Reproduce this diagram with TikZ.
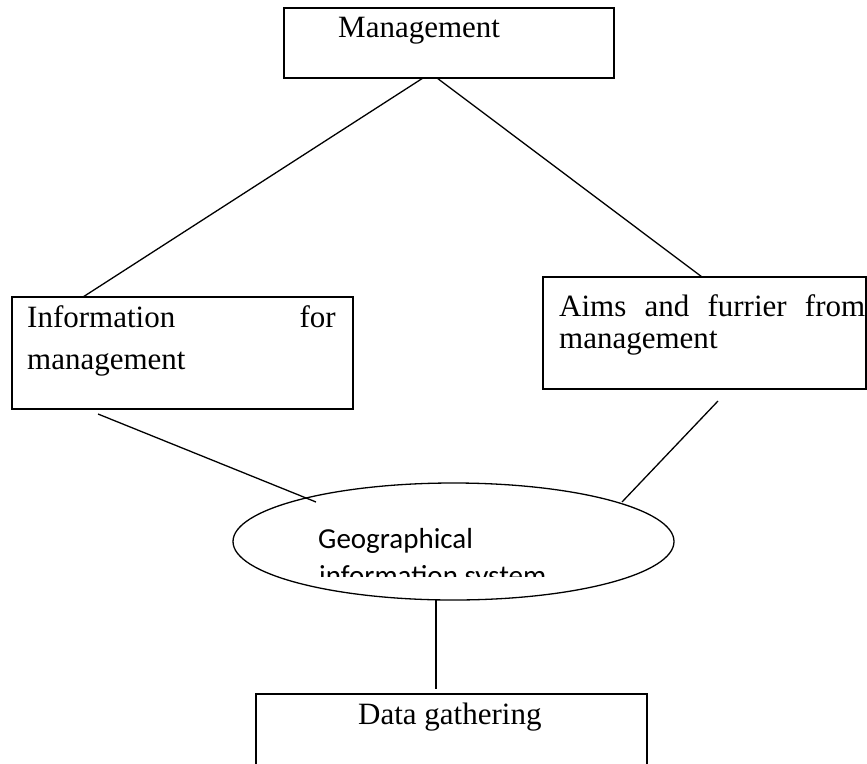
\documentclass[tikz,border=0pt]{standalone}
\usepackage{fontspec}
\setmainfont{Liberation Serif}
\newfontfamily\calfont{Carlito}
\usetikzlibrary{shapes.geometric,calc}
\begin{document}
\begin{tikzpicture}[x=1pt,y=-1pt,
  box/.style={draw,line width=2pt,rectangle,anchor=north west,inner sep=0pt,outer sep=0pt},
  conn/.style={line width=1.3pt},
  lbl/.style={font=\fontsize{31}{38}\selectfont,anchor=base west,inner sep=0pt},
  clbl/.style={font=\calfont\fontsize{29}{35}\selectfont,anchor=base west,inner sep=0pt}]
\useasboundingbox (0,0) rectangle (867,763);
% boxes
\node[box,minimum width=330pt,minimum height=70pt] (mgmt) at (284,8) {};
\node[box,minimum width=341pt,minimum height=112pt] (info) at (12,297) {};
\node[box,minimum width=323pt,minimum height=112pt] (aims) at (543,277) {};
\node[box,minimum width=391pt,minimum height=110pt] (data) at (256,694) {};
\node[draw,ellipse,line width=1.3pt,inner sep=0pt,outer sep=0pt,minimum width=441pt,minimum height=117pt] (gis) at (453.5,541.5) {};
% texts
\node[lbl] (tm) at (338,37) {Management};
\node[lbl] (ti1) at (27,327) {Information};
\node[lbl,anchor=base east] (ti2) at (336,327) {for};
\node[lbl] (ti3) at (27,369) {management};
\node[lbl] (ta1) at (559,316) {\makebox[306pt][s]{Aims and furrier from}};
\node[lbl] (ta2) at (559,348) {management};
\node[clbl] (tg1) at (318,548) {Geographical};
\begin{scope}
\clip (0,0) rectangle (867,576);
\node[clbl] (tg2) at (319,585) {information system};
\end{scope}
\node[lbl] (td) at (358,724) {Data gathering};
% free ends
\coordinate (c1) at ($(info.south west)+(86,5)$);
\coordinate (c2) at ($(gis.center)+(-137.5,-39.5)$);
\coordinate (c3) at ($(aims.south west)+(175,12)$);
\coordinate (c4) at ($(gis.center)+(168.5,-39.5)$);
\coordinate (c5) at ($(gis.south)+(-17.5,0)$);
\coordinate (c6) at ($(data.north west)+(180,-5)$);
% connectors
\draw[conn] ($(mgmt.south west)+(139,0)$) -- ($(info.north west)+(71,0)$);
\draw[conn] ($(mgmt.south west)+(153,0)$) -- ($(aims.north west)+(159,0)$);
\draw[conn] (c1) -- (c2);
\draw[conn] (c3) -- (c4);
\draw[conn] (c5) -- (c6);
\end{tikzpicture}
\end{document}
